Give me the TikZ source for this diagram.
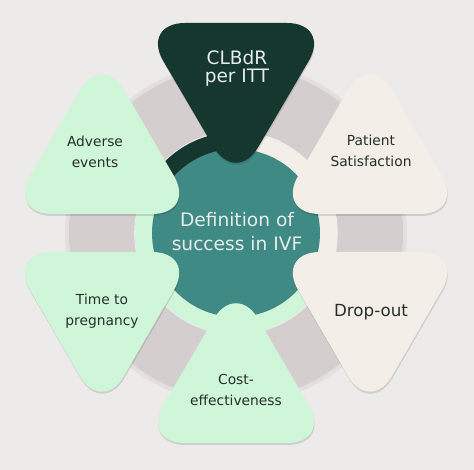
\documentclass[tikz,border=0pt]{standalone}
\usepackage{fontspec}
\setmainfont{DejaVu Sans}
\usetikzlibrary{shadows}
\definecolor{bgc}{HTML}{EDEAEA}
\definecolor{ringgrey}{HTML}{D4CECF}
\definecolor{ringrim}{HTML}{E3DFE0}
\definecolor{mintc}{HTML}{CFF6D8}
\definecolor{creamc}{HTML}{F3EEE7}
\definecolor{darkc}{HTML}{15372D}
\definecolor{tealc}{HTML}{3F8A85}
\definecolor{txtdark}{HTML}{26302B}
\definecolor{txtlight}{HTML}{E6EDEA}
\begin{document}
\begin{tikzpicture}[x=1pt,y=1pt,
  petal/.style={rounded corners=44pt,
    drop shadow={shadow xshift=0.5pt, shadow yshift=-2pt, opacity=0.12, fill=black}},
  lbl/.style={font=\fontsize{13.8}{21}\selectfont, text=txtdark, align=center, inner sep=0pt, anchor=base},
  biglbl/.style={lbl, font=\fontsize{18.5}{18}\selectfont, text=txtlight},
  centrelbl/.style={lbl, font=\fontsize{18.6}{24}\selectfont, text=txtlight},
  droplbl/.style={lbl, font=\fontsize{16.7}{20}\selectfont}
 ]
\fill[bgc] (-236,-237) rectangle (238,233);
\useasboundingbox (-236,-237) rectangle (238,233);
% rings
\fill[ringrim] (0,0) circle (171);
\fill[ringgrey] (0,0) circle (167);
\fill[mintc] (0,0) circle (101);
\fill[creamc] (0,0) -- (-40:101) arc (-40:90:101) -- cycle;
\fill[darkc] (0,0) -- (90:101) arc (90:150:101) -- cycle;
\draw[white, opacity=0.6, line width=0.8pt] (0,0) circle (101.4);
\fill[tealc] (0,0) circle (84);
% petals
\fill[darkc, petal] (-95,210) -- (95,210) -- (0,48) -- cycle;
\fill[creamc, petal] (40,19) -- (228,19) -- (134,181) -- cycle;
\fill[creamc, petal] (40,-19) -- (228,-19) -- (134,-181) -- cycle;
\fill[mintc, petal] (-95,-210) -- (95,-210) -- (0,-48) -- cycle;
\fill[mintc, petal] (-228,-19) -- (-40,-19) -- (-134,-181) -- cycle;
\fill[mintc, petal] (-228,19) -- (-40,19) -- (-134,181) -- cycle;
% labels
\node[biglbl] (clbdr) at (1,150) {CLBdR\\per ITT};
\node[centrelbl] (centre) at (1,-18) {Definition of\\success in IVF};
\node[lbl] (adverse) at (-141,65) {Adverse\\events};
\node[lbl] (patient) at (135,66) {Patient\\Satisfaction};
\node[droplbl] (dropout) at (135,-84) {Drop-out};
\node[lbl] (time) at (-134,-93) {Time to\\pregnancy};
\node[lbl] (cost) at (0,-173) {Cost-\\effectiveness};
\end{tikzpicture}
\end{document}
